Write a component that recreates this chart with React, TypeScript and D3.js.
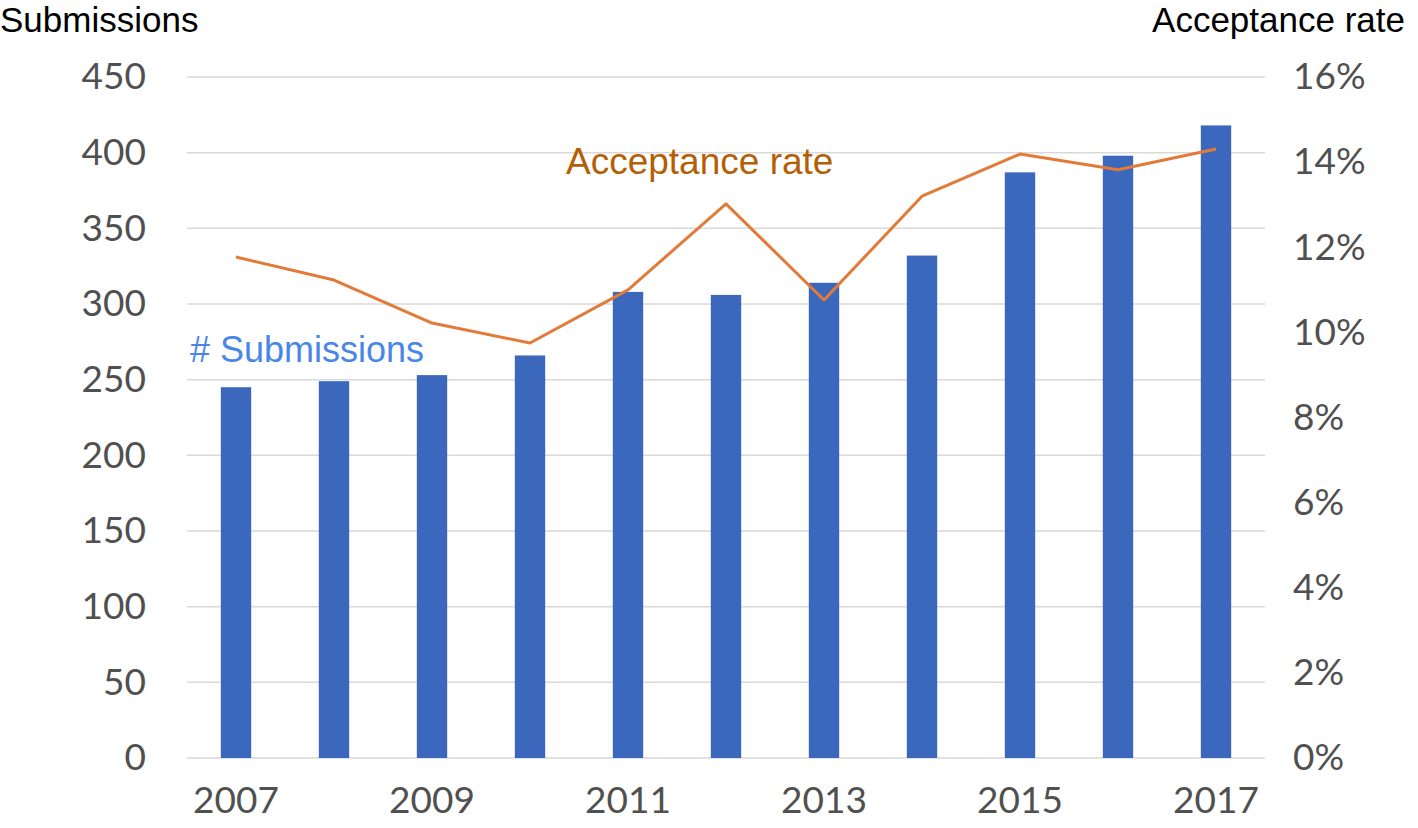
import { useRef, useEffect } from 'react';
import * as d3 from 'd3';

const YEARS = ['2007', '2008', '2009', '2010', '2011', '2012', '2013', '2014', '2015', '2016', '2017'];
const SUBMISSIONS = [245, 249, 253, 266, 308, 306, 314, 332, 387, 398, 418];
const ACCEPT_RATE = [0.1177, 0.1123, 0.1022, 0.0975, 0.110, 0.1302, 0.1076, 0.132, 0.1419, 0.1382, 0.1431];
const LEFT_TICKS = [0, 50, 100, 150, 200, 250, 300, 350, 400, 450];
const RIGHT_TICKS = [0, 0.02, 0.04, 0.06, 0.08, 0.1, 0.12, 0.14, 0.16];
const YEAR_TICKS = ['2007', '2009', '2011', '2013', '2015', '2017'];

export default function App() {
  const ref = useRef<SVGSVGElement>(null);

  useEffect(() => {
    const svg = ref.current;
    if (!svg) return;
    const W = 1418, H = 828;
    const left = 187, right = 1265, top = 77, bottom = 758;

    d3.select(svg).selectAll('*').remove();
    const g = d3.select(svg).attr('viewBox', `0 0 ${W} ${H}`).append('g');

    const x = d3.scaleBand().domain(YEARS).range([left, right]).padding(0);
    const yL = d3.scaleLinear().domain([0, 450]).range([bottom, top]);
    const yR = d3.scaleLinear().domain([0, 0.16]).range([bottom, top]);
    const cx = (yr: string) => x(yr)! + x.bandwidth() / 2;
    const barW = x.bandwidth() * 0.31;

    // grid
    LEFT_TICKS.forEach((v) => {
      g.append('line').attr('x1', left).attr('x2', right).attr('y1', yL(v)).attr('y2', yL(v))
        .attr('stroke', '#d9d9d9').attr('stroke-width', 1.5);
    });

    // bars
    YEARS.forEach((yr, i) => {
      g.append('rect')
        .attr('x', cx(yr) - barW / 2).attr('y', yL(SUBMISSIONS[i]))
        .attr('width', barW).attr('height', bottom - yL(SUBMISSIONS[i]))
        .attr('fill', '#3b67bc');
    });

    // line
    const line = d3.line<number>().x((_, i) => cx(YEARS[i])).y((d) => yR(d));
    g.append('path').datum(ACCEPT_RATE).attr('d', line).attr('fill', 'none')
      .attr('stroke', '#e27a38').attr('stroke-width', 3).attr('stroke-linejoin', 'round');

    // axes
    const tickFont = (sel: any) => {
      sel.select('.domain').remove();
      sel.selectAll('text').attr('font-family', 'Lato, sans-serif').attr('font-size', 37).attr('fill', '#505050');
    };
    g.append('g').attr('transform', `translate(${left},0)`)
      .call(d3.axisLeft(yL).tickValues(LEFT_TICKS).tickSize(0).tickPadding(41).tickFormat((d) => `${d}`))
      .call(tickFont);
    g.append('g').attr('transform', `translate(${right},0)`)
      .call(d3.axisRight(yR).tickValues(RIGHT_TICKS).tickSize(0).tickPadding(28).tickFormat(d3.format('.0%')))
      .call(tickFont);
    g.append('g').attr('transform', `translate(0,${bottom})`)
      .call(d3.axisBottom(x).tickValues(YEAR_TICKS).tickSize(0).tickPadding(29))
      .call(tickFont);

    // titles
    g.append('text').attr('x', 0).attr('y', 32).attr('font-family', 'Liberation Sans, Arial, sans-serif')
      .attr('font-size', 35).attr('fill', '#000').text('Submissions');
    g.append('text').attr('x', 1405).attr('y', 32).attr('text-anchor', 'end')
      .attr('font-family', 'Liberation Sans, Arial, sans-serif')
      .attr('font-size', 35).attr('fill', '#000').text('Acceptance rate');

    // series labels
    g.append('text').attr('x', 190).attr('y', 362).attr('font-family', 'Liberation Sans, Arial, sans-serif')
      .attr('font-size', 36).attr('fill', '#4a86e8').text('# Submissions');
    g.append('text').attr('x', 566).attr('y', 174).attr('font-family', 'Liberation Sans, Arial, sans-serif')
      .attr('font-size', 37).attr('fill', '#b45f06').text('Acceptance rate');
  }, []);

  return (
    <svg ref={ref} width={1418} height={828}
      style={{ position: 'absolute', left: 0, top: 0, background: '#fff' }} />
  );
}
